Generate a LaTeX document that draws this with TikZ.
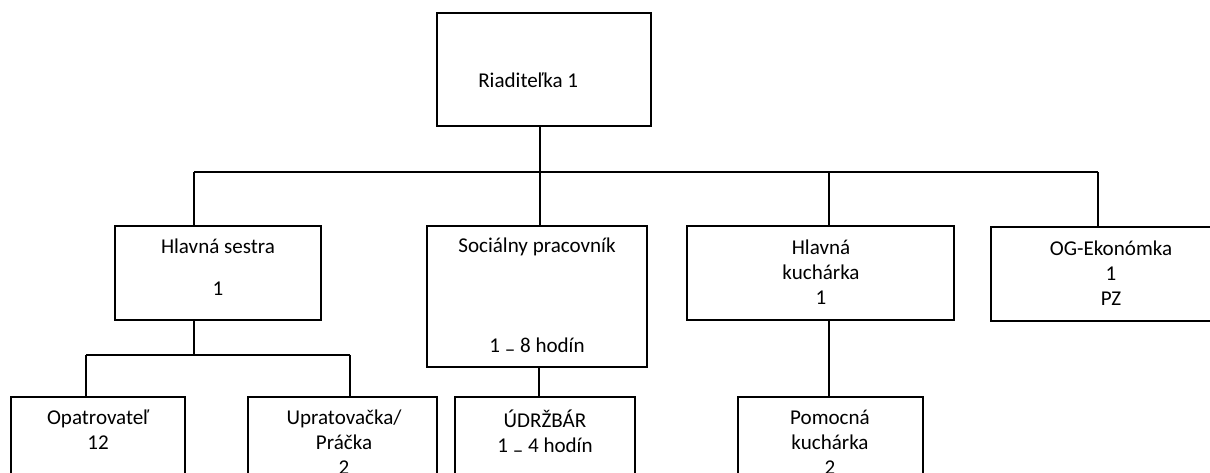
\documentclass[tikz,border=0pt]{standalone}
\usepackage{fontspec}
\setmainfont{Carlito}
\begin{document}
\begin{tikzpicture}[x=0.75pt,y=-0.75pt,
  box/.style={draw,line width=1.3pt,rectangle,inner sep=0pt},
  lbl/.style={inner sep=0pt,align=center,font=\fontsize{15.8}{18.6}\selectfont},
  conn/.style={line width=1.3pt}]
\useasboundingbox (0,0) rectangle (1210,473);
\clip (0,0) rectangle (1210,473);
% boxes (center, size)
\node[box,minimum width=214*0.75pt,minimum height=113*0.75pt] (top) at (544,69.5) {};
\node[box,minimum width=206*0.75pt,minimum height=94*0.75pt] (hs) at (218,273) {};
\node[box,minimum width=220*0.75pt,minimum height=141*0.75pt] (soc) at (537,296.5) {};
\node[box,minimum width=267*0.75pt,minimum height=94*0.75pt] (hk) at (820.5,273) {};
\node[box,minimum width=240*0.75pt,minimum height=94*0.75pt] (og) at (1111,274) {};
\node[box,minimum width=174*0.75pt,minimum height=100*0.75pt] (op) at (98,447) {};
\node[box,minimum width=189*0.75pt,minimum height=100*0.75pt] (up) at (342.5,447) {};
\node[box,minimum width=180*0.75pt,minimum height=100*0.75pt] (ud) at (545,447) {};
\node[box,minimum width=185*0.75pt,minimum height=100*0.75pt] (pk) at (830.5,447) {};
% texts
\node[lbl,anchor=west] (ttop) at (478,80) {Riaditeľka 1};
\node[lbl] (ths1) at (218,246) {Hlavná sestra};
\node[lbl] (ths2) at (218,289) {1};
\node[lbl] (tsoc1) at (537,247) {Sociálny pracovník};
\node[lbl] (tsoc2) at (537,347) {1 \raisebox{-0.45ex}{–} 8 hodín};
\node[lbl] (thk) at (821,272) {Hlavná\\kuchárka\\1};
\node[lbl] (tog) at (1111,273) {OG-Ekonómka\\1\\PZ};
\node[lbl,anchor=north] (top1) at (98,410) {Opatrovateľ\\12};
\node[lbl,anchor=north] (tup) at (344,410) {Upratovačka/\\Práčka\\2};
\node[lbl,anchor=north] (tud) at (545,410) {ÚDRŽBÁR\\1 \raisebox{-0.45ex}{–} 4 hodín};
\node[lbl,anchor=north] (tpk) at (830,410) {Pomocná\\kuchárka\\2};
% connector coordinates
\coordinate (bus) at (0,172);
\coordinate (bus2) at (0,355);
\coordinate (xa) at (540,0);
\coordinate (xhs) at (194,0);
\coordinate (xhk) at (829,0);
\coordinate (xog) at (1098,0);
\coordinate (xop) at (86,0);
\coordinate (xup) at (350,0);
\coordinate (xud) at (539,0);
% connectors
\draw[conn] (top.south -| xa) -- (soc.north -| xa);
\draw[conn] (bus -| xhs) -- (bus -| xog);
\draw[conn] (bus -| xhs) -- (hs.north -| xhs);
\draw[conn] (bus -| xhk) -- (hk.north -| xhk);
\draw[conn] (bus -| xog) -- (og.north -| xog);
\draw[conn] (hs.south -| xhs) -- (bus2 -| xhs);
\draw[conn] (bus2 -| xop) -- (bus2 -| xup);
\draw[conn] (bus2 -| xop) -- (op.north -| xop);
\draw[conn] (bus2 -| xup) -- (up.north -| xup);
\draw[conn] (soc.south -| xud) -- (ud.north -| xud);
\draw[conn] (hk.south -| xhk) -- (pk.north -| xhk);
\end{tikzpicture}
\end{document}
